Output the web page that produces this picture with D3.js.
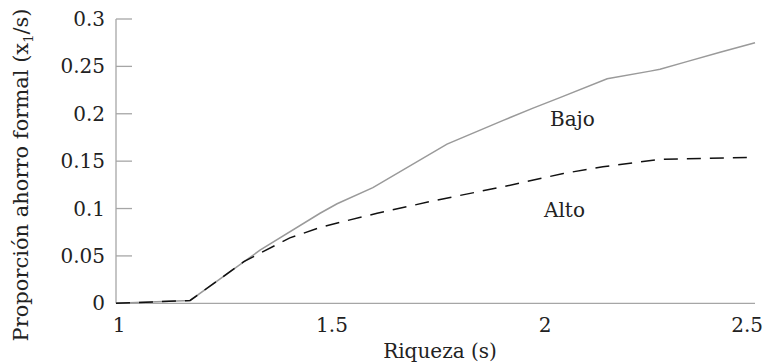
<!DOCTYPE html>
<html><head><meta charset="utf-8">
<script src="https://cdn.jsdelivr.net/npm/d3@7"></script>
<style>body{margin:0;background:#fff}svg{display:block}text{font-family:"DejaVu Serif",serif;fill:#222}</style>
</head><body>
<svg id="c" width="765" height="363"></svg>
<script>
const xTicks = [1, 1.5, 2, 2.5];
const xTickLabels = ["1", "1.5", "2", "2.5"];
const yTicks = [0, 0.05, 0.1, 0.15, 0.2, 0.25, 0.3];
const yTickLabels = ["0", "0.05", "0.1", "0.15", "0.2", "0.25", "0.3"];

const bajoX = [1, 1.174, 1.338, 1.479, 1.519, 1.603, 1.777, 1.909, 1.979, 2.042, 2.153, 2.254, 2.277, 2.34, 2.418, 2.5];
const bajoY = [0, 0.003, 0.056, 0.095, 0.105, 0.122, 0.168, 0.193, 0.206, 0.217, 0.237, 0.245, 0.247, 0.255, 0.265, 0.275];
const altoX = [1, 1.174, 1.30, 1.408, 1.479, 1.54, 1.613, 1.754, 1.909, 2.05, 2.143, 2.277, 2.488];
const altoY = [0, 0.003, 0.044, 0.069, 0.080, 0.087, 0.095, 0.109, 0.123, 0.137, 0.144, 0.152, 0.154];

const svg = d3.select("#c");
const x = d3.scaleLinear().domain([1, 2.5]).range([116, 755]);
const y = d3.scaleLinear().domain([0, 0.3]).range([303.3, 19]);
const axisCol = "#a6a6a6";

svg.append("line").attr("x1", x(1)).attr("x2", x(2.5)).attr("y1", y(0)).attr("y2", y(0)).attr("stroke", axisCol).attr("stroke-width", 1.3);
svg.append("line").attr("x1", x(1)).attr("x2", x(1)).attr("y1", y(0)).attr("y2", y(0.3)).attr("stroke", axisCol).attr("stroke-width", 1.3);

svg.selectAll(".yt").data(yTicks).enter().append("line")
  .attr("x1", x(1)).attr("x2", x(1) + 16).attr("y1", d => y(d)).attr("y2", d => y(d))
  .attr("stroke", axisCol).attr("stroke-width", 1.3);
svg.selectAll(".yl").data(yTicks).enter().append("text")
  .attr("x", 105).attr("y", d => y(d)).attr("dy", "0.35em").attr("text-anchor", "end")
  .attr("font-size", 20).text((d, i) => yTickLabels[i]);

svg.selectAll(".xl").data(xTicks).enter().append("text")
  .attr("x", (d, i) => i === xTicks.length - 1 ? 763 : x(d) + 3)
  .attr("y", 332)
  .attr("text-anchor", (d, i) => i === xTicks.length - 1 ? "end" : "middle")
  .attr("font-size", 20).text((d, i) => xTickLabels[i]);

svg.append("text").attr("x", 440).attr("y", 358).attr("text-anchor", "middle").attr("font-size", 20).text("Riqueza (s)");
const yt = svg.append("text").attr("transform", "translate(28,175) rotate(-90)").attr("text-anchor", "middle").attr("font-size", 21);
yt.append("tspan").text("Proporción ahorro formal (x");
yt.append("tspan").attr("font-size", 13).attr("dy", 5).text("1");
yt.append("tspan").attr("dy", -5).text("/s)");

const line = d3.line().x(d => x(d[0])).y(d => y(d[1]));
svg.append("path").datum(bajoX.map((v, i) => [v, bajoY[i]])).attr("d", line)
  .attr("fill", "none").attr("stroke", "#9a9a9a").attr("stroke-width", 1.5);
svg.append("path").datum(altoX.map((v, i) => [v, altoY[i]])).attr("d", line)
  .attr("fill", "none").attr("stroke", "#111").attr("stroke-width", 1.5).attr("stroke-dasharray", "14,9");

svg.append("text").attr("x", 550).attr("y", 126).attr("font-size", 20).text("Bajo");
svg.append("text").attr("x", 544).attr("y", 217).attr("font-size", 20).text("Alto");
</script>
</body></html>
